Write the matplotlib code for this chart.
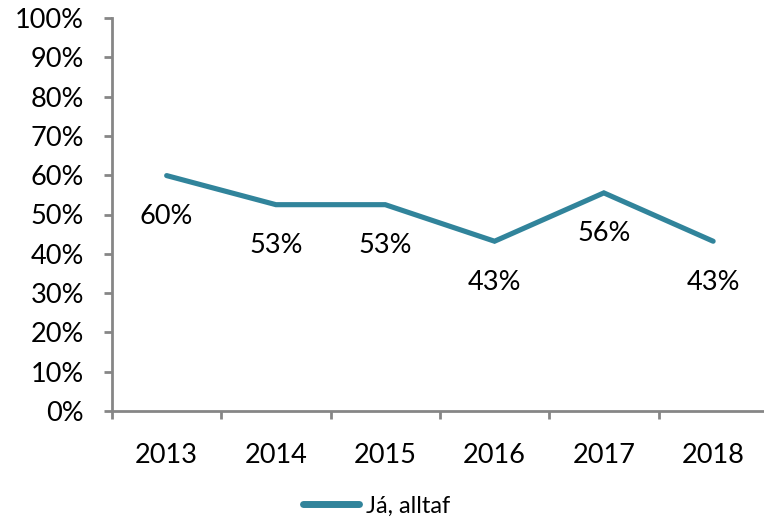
import matplotlib
matplotlib.use("Agg")
import matplotlib.pyplot as plt
from matplotlib.ticker import FixedLocator, PercentFormatter

years = ["2013", "2014", "2015", "2016", "2017", "2018"]
values = [0.599, 0.525, 0.525, 0.432, 0.555, 0.432]
labels = ["60%", "53%", "53%", "43%", "56%", "43%"]
series_name = "Já, alltaf"

plt.rcParams['font.family'] = ['Lato', 'DejaVu Sans']

W, H = 764, 521
fig = plt.figure(figsize=(W / 100, H / 100), dpi=100)
left, right = 112 / W, 1.0
bottom, top = (H - 411) / H, (H - 18) / H
ax = fig.add_axes([left, bottom, right - left, top - bottom])

color = "#31849B"
fs = 19.5
x = list(range(len(years)))
line, = ax.plot(x, values, color=color, lw=3.7, solid_capstyle='round',
                solid_joinstyle='miter', label=series_name, clip_on=False)

for xi, v, lab in zip(x, values, labels):
    ax.annotate(lab, (xi, v), xytext=(0, -29.5), textcoords='offset points',
                ha='center', va='center', fontsize=fs, color='black')

cat_w = 109.3
xmax = -0.5 + (W - 112) / cat_w
ax.set_xlim(-0.5, xmax)
ax.set_ylim(0, 1)

ax.yaxis.set_major_locator(FixedLocator([i / 10 for i in range(11)]))
ax.yaxis.set_major_formatter(PercentFormatter(1.0, decimals=0))
ax.set_xticks(x)
ax.set_xticklabels(years)
ax.set_xticks([i - 0.5 for i in range(6)], minor=True)

spine_col = "#868686"
for s in ['top', 'right']:
    ax.spines[s].set_visible(False)
for s in ['left', 'bottom']:
    ax.spines[s].set_color(spine_col)
    ax.spines[s].set_linewidth(2.0)

ax.tick_params(axis='y', which='major', direction='out', length=6, width=2.0,
               color=spine_col, labelsize=fs, pad=14)
ax.tick_params(axis='x', which='major', length=0, labelsize=fs, pad=23)
ax.tick_params(axis='x', which='minor', direction='out', length=6, width=2.0,
               color=spine_col)

leg = fig.legend(handles=[line], loc='center', bbox_to_anchor=(0.493, (H - 506) / H),
                 frameon=False, fontsize=17, handlelength=2.35, handletextpad=0.3)
for h in leg.legend_handles:
    h.set_linewidth(5)

fig.savefig("out.png", dpi=100)
